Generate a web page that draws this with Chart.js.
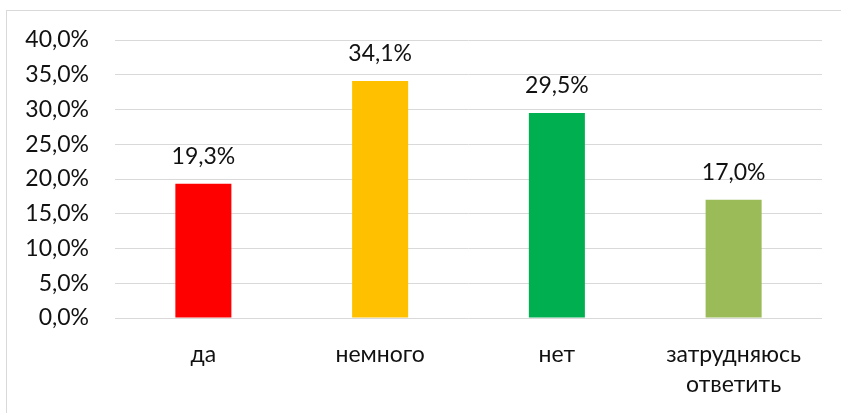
<!DOCTYPE html>
<html>
<head>
<meta charset="utf-8">
<script src="https://cdn.jsdelivr.net/npm/chart.js@4/dist/chart.umd.min.js"></script>
<style>
  html, body { margin: 0; padding: 0; background: #fff; overflow: hidden; }
  #wrap { position: relative; width: 841px; height: 413px; }
  #frame { position: absolute; left: 6px; top: 10px; width: 900px; height: 500px; border: 1px solid #d9d9d9; box-sizing: border-box; }
  canvas { position: absolute; left: 0; top: 0; }
</style>
</head>
<body>
<div id="wrap">
  <div id="frame"></div>
  <canvas id="c" width="841" height="413"></canvas>
</div>
<script>
const categories = ['да', 'немного', 'нет', ['затрудняюсь', 'ответить']];
const values = [19.3, 34.1, 29.5, 17.0];
const barColors = ['#FF0000', '#FFC000', '#00B050', '#9BBB59'];
const yTicks = [0, 5, 10, 15, 20, 25, 30, 35, 40];

const FONT = 'Lato, "Open Sans", sans-serif';
const FS = 23;
const fmt = v => v.toFixed(1).replace('.', ',') + '%';

const dataLabels = {
  id: 'dataLabels',
  afterDatasetsDraw(chart) {
    const ctx = chart.ctx;
    const meta = chart.getDatasetMeta(0);
    ctx.save();
    ctx.font = FS + 'px ' + FONT;
    ctx.fillStyle = '#111';
    ctx.textAlign = 'center';
    ctx.textBaseline = 'middle';
    meta.data.forEach((bar, i) => {
      ctx.fillText(fmt(values[i]), bar.x, bar.y - 27);
    });
    ctx.restore();
  }
};

new Chart(document.getElementById('c'), {
  type: 'bar',
  data: {
    labels: categories,
    datasets: [{
      data: values,
      backgroundColor: barColors,
      borderWidth: 0,
      categoryPercentage: 1,
      barPercentage: 0.317
    }]
  },
  options: {
    responsive: false,
    animation: false,
    events: [],
    layout: { padding: { top: 40, right: 19, bottom: 0, left: 0 } },
    plugins: { legend: { display: false }, tooltip: { enabled: false } },
    scales: {
      x: {
        grid: { display: false, drawTicks: false },
        border: { display: false },
        ticks: {
          color: '#111',
          font: { family: FONT, size: FS, lineHeight: 30 / FS },
          padding: 22,
          maxRotation: 0,
          autoSkip: false
        },
        afterFit(scale) { scale.height = 95; }
      },
      y: {
        min: 0, max: 40,
        afterBuildTicks(scale) { scale.ticks = yTicks.map(v => ({ value: v })); },
        grid: { color: '#d9d9d9', lineWidth: 1, drawTicks: false },
        border: { display: false },
        ticks: {
          color: '#111',
          font: { family: FONT, size: FS },
          padding: 26,
          callback: v => fmt(v)
        },
        afterFit(scale) { scale.width = 115; }
      }
    }
  },
  plugins: [dataLabels]
});
</script>
</body>
</html>
